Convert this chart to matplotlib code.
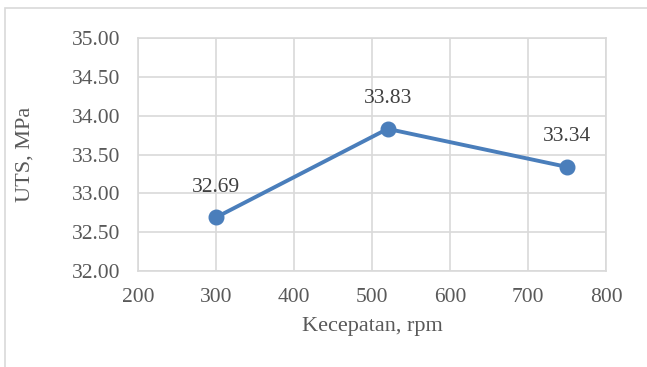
import matplotlib.pyplot as plt
from matplotlib.patches import Rectangle

# data
speed_rpm = [300, 520, 750]
uts_mpa = [32.69, 33.83, 33.34]
value_labels = ['32.69', '33.83', '33.34']

plt.rcParams['font.family'] = ['Liberation Serif', 'DejaVu Serif']
text_col = '#595959'
grid_col = '#d9d9d9'
line_col = '#4a7ebb'

fig = plt.figure(figsize=(6.47, 3.67), dpi=100)
ax = fig.add_axes([138 / 647, 1 - 271 / 367, (606 - 138) / 647, (271 - 38) / 367])

# chart border (only top/left visible in the crop)
fig.patches.append(Rectangle((5 / 647, -0.05), 1.1, (367 - 8) / 367 + 0.05,
                             transform=fig.transFigure, fill=False,
                             edgecolor=grid_col, linewidth=1.2))

ax.plot(speed_rpm, uts_mpa, color=line_col, linewidth=2.8, marker='o',
        markersize=10.5, zorder=3)
for x, y, lab in zip(speed_rpm, uts_mpa, value_labels):
    ax.annotate(lab, (x, y), xytext=(0, 15), textcoords='offset points',
                ha='center', va='bottom', fontsize=15.5, color='#404040')

ax.set_xlim(200, 800)
ax.set_ylim(32.0, 35.0)
ax.set_xticks(range(200, 801, 100))
ax.set_yticks([32.0 + 0.5 * i for i in range(7)])
ax.set_yticklabels([f'{32.0 + 0.5 * i:.2f}' for i in range(7)])
ax.grid(True, color=grid_col, linewidth=1.2)
ax.set_axisbelow(True)
for s in ax.spines.values():
    s.set_color(grid_col)
    s.set_linewidth(1.2)
ax.tick_params(length=0, labelsize=15.5, colors=text_col)
ax.tick_params(axis='y', pad=13)
ax.tick_params(axis='x', pad=12)
ax.set_xlabel('Kecepatan, rpm', fontsize=16, color=text_col, va='center')
ax.set_ylabel('UTS, MPa', fontsize=16, color=text_col, va='center')
ax.xaxis.set_label_coords(0.5, (271 - 327) / 233)
ax.yaxis.set_label_coords((25 - 138) / 468, 0.5)

fig.savefig('out.png', dpi=100)
